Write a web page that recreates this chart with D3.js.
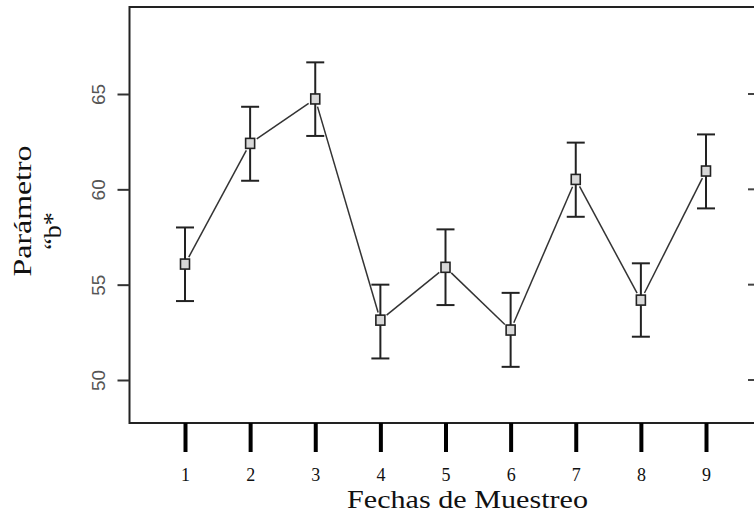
<!DOCTYPE html>
<html>
<head>
<meta charset="utf-8">
<script src="https://cdn.jsdelivr.net/npm/d3@7/dist/d3.min.js"></script>
<style>
  html, body { margin: 0; padding: 0; background: #fff; }
  svg { display: block; }
</style>
</head>
<body>
<svg id="chart" width="754" height="517"></svg>
<script>
// Sampling dates and parameter b* (mean with lower/upper error bounds)
const fechas = [1, 2, 3, 4, 5, 6, 7, 8, 9];
const media = [56.08, 62.41, 64.74, 53.14, 55.91, 52.62, 60.52, 54.19, 60.96];
const inferior = [54.14, 60.45, 62.80, 51.13, 53.93, 50.69, 58.56, 52.27, 59.00];
const superior = [58.00, 64.33, 66.66, 55.00, 57.90, 54.57, 62.45, 56.12, 62.88];
const yTicks = [50, 55, 60, 65];

const svg = d3.select("#chart");

// Plot frame
const frame = { left: 129.5, top: 7, right: 760, bottom: 423 };

const x = d3.scaleLinear().domain([1, 9]).range([185, 706]);
const y = d3.scaleLinear().domain([50, 65]).range([380, 94]);

const ink = "#222";

// Frame lines (top, left, bottom)
svg.append("path")
  .attr("d", `M${frame.right},${frame.top}H${frame.left}V${frame.bottom}H${frame.right}`)
  .attr("fill", "none")
  .attr("stroke", ink)
  .attr("stroke-width", 2);

// Left y axis: ticks and rotated grey labels
const yAxis = d3.axisLeft(y).tickValues(yTicks).tickSize(12).tickPadding(0).tickFormat(d3.format("d"));
const gY = svg.append("g").attr("transform", `translate(${frame.left},0)`).call(yAxis);
gY.select(".domain").remove();
gY.selectAll(".tick line").attr("stroke", "#333").attr("stroke-width", 2);
gY.selectAll(".tick text").remove();
gY.selectAll(".tick").append("text")
  .attr("transform", "translate(-25,0) rotate(-90)")
  .attr("text-anchor", "middle")
  .attr("fill", "#555")
  .style("font-family", "'Liberation Sans', Arial, sans-serif")
  .style("font-size", "19px")
  .text(d => d);

// Right side tick marks
svg.append("g").selectAll("line").data(yTicks).join("line")
  .attr("x1", 748).attr("x2", 754)
  .attr("y1", d => y(d)).attr("y2", d => y(d))
  .attr("stroke", "#444").attr("stroke-width", 2);

// Bottom x axis: heavy ticks below the frame with serif labels
const xAxis = d3.axisBottom(x).tickValues(fechas).tickSize(29).tickPadding(0).tickFormat(d3.format("d"));
const gX = svg.append("g").attr("transform", `translate(0,${frame.bottom})`).call(xAxis);
gX.select(".domain").remove();
gX.selectAll(".tick line").attr("stroke", "#000").attr("stroke-width", 4);
gX.selectAll(".tick text")
  .attr("y", 58).attr("dy", 0)
  .attr("fill", "#111")
  .style("font-family", "'Liberation Serif', 'Times New Roman', serif")
  .style("font-size", "18px");

// Axis titles
svg.append("text")
  .attr("x", 467.5).attr("y", 508)
  .attr("text-anchor", "middle")
  .attr("textLength", 241).attr("lengthAdjust", "spacingAndGlyphs")
  .attr("fill", "#111")
  .style("font-family", "'Liberation Serif', 'Times New Roman', serif")
  .style("font-size", "25px")
  .text("Fechas de Muestreo");

svg.append("text")
  .attr("transform", "translate(31,211) rotate(-90)")
  .attr("text-anchor", "middle")
  .attr("textLength", 131).attr("lengthAdjust", "spacingAndGlyphs")
  .attr("fill", "#111")
  .style("font-family", "'Liberation Serif', 'Times New Roman', serif")
  .style("font-size", "25px")
  .text("Parámetro");

svg.append("text")
  .attr("transform", "translate(61,231) rotate(-90)")
  .attr("text-anchor", "middle")
  .attr("fill", "#111")
  .style("font-family", "'Liberation Serif', 'Times New Roman', serif")
  .style("font-size", "26px")
  .text("\u201Cb*");

// Data rows
const rows = fechas.map((f, i) => ({ f, m: media[i], lo: inferior[i], hi: superior[i] }));

// Connecting segments, stopping short of each marker
const gap = 8;
const segs = d3.pairs(rows).map(([a, b]) => {
  const x0 = x(a.f), y0 = y(a.m), x1 = x(b.f), y1 = y(b.m);
  const len = Math.hypot(x1 - x0, y1 - y0);
  const ux = (x1 - x0) / len, uy = (y1 - y0) / len;
  return [x0 + ux * gap, y0 + uy * gap, x1 - ux * gap, y1 - uy * gap];
});
svg.append("g").selectAll("line").data(segs).join("line")
  .attr("x1", d => d[0]).attr("y1", d => d[1])
  .attr("x2", d => d[2]).attr("y2", d => d[3])
  .attr("stroke", "#333").attr("stroke-width", 1.5);

// Error bars
const capW = 9;
const eb = svg.append("g").attr("stroke", ink).attr("stroke-width", 2);
eb.selectAll("line.v").data(rows).join("line").attr("class", "v")
  .attr("x1", d => x(d.f)).attr("x2", d => x(d.f))
  .attr("y1", d => y(d.lo)).attr("y2", d => y(d.hi));
eb.selectAll("line.top").data(rows).join("line").attr("class", "top")
  .attr("x1", d => x(d.f) - capW).attr("x2", d => x(d.f) + capW)
  .attr("y1", d => y(d.hi)).attr("y2", d => y(d.hi));
eb.selectAll("line.bot").data(rows).join("line").attr("class", "bot")
  .attr("x1", d => x(d.f) - capW).attr("x2", d => x(d.f) + capW)
  .attr("y1", d => y(d.lo)).attr("y2", d => y(d.lo));

// Square markers
svg.append("g").selectAll("rect").data(rows).join("rect")
  .attr("x", d => x(d.f) - 4.5).attr("y", d => y(d.m) - 5)
  .attr("width", 9).attr("height", 10)
  .attr("fill", "#d8d8d8")
  .attr("stroke", ink).attr("stroke-width", 1.6);
</script>
</body>
</html>
